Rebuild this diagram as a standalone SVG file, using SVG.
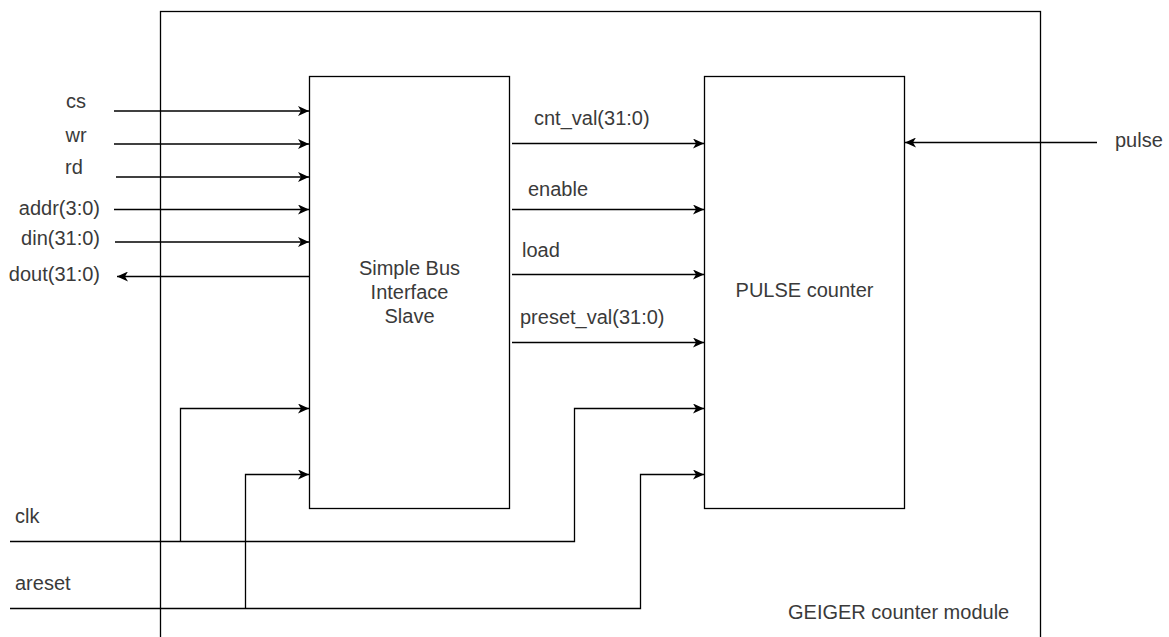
<svg xmlns="http://www.w3.org/2000/svg" width="1169" height="637" viewBox="0 0 1169 637">
<style>
.box{fill:#fff;stroke:#000;stroke-width:1.3}
.w{fill:none;stroke:#000;stroke-width:1.3}
text{font-family:"Liberation Sans",Arial,sans-serif;font-size:20px;fill:#3a3a3a}
.c{text-anchor:middle}
.r{text-anchor:end}
</style>
<defs>
<marker id="ah" markerWidth="12" markerHeight="10" refX="11" refY="5" orient="auto" markerUnits="userSpaceOnUse">
<path d="M0,0 L11,5 L0,10 L3,5 Z" fill="#000"/>
</marker>
</defs>
<g id="module">
<rect class="box" x="160.5" y="11.5" width="880" height="660"/>
<text x="788" y="619">GEIGER counter module</text>
</g>
<g id="connectors">
<line class="w" x1="114" y1="111" x2="309" y2="111" marker-end="url(#ah)"/>
<line class="w" x1="114" y1="144" x2="309" y2="144" marker-end="url(#ah)"/>
<line class="w" x1="116" y1="177" x2="309" y2="177" marker-end="url(#ah)"/>
<line class="w" x1="114" y1="209.5" x2="309" y2="209.5" marker-end="url(#ah)"/>
<line class="w" x1="115" y1="242" x2="309" y2="242" marker-end="url(#ah)"/>
<line class="w" x1="309" y1="276.5" x2="117" y2="276.5" marker-end="url(#ah)"/>
<line class="w" x1="512" y1="143.5" x2="704" y2="143.5" marker-end="url(#ah)"/>
<line class="w" x1="512" y1="209.5" x2="704" y2="209.5" marker-end="url(#ah)"/>
<line class="w" x1="512" y1="274.5" x2="704" y2="274.5" marker-end="url(#ah)"/>
<line class="w" x1="512" y1="342.5" x2="704" y2="342.5" marker-end="url(#ah)"/>
<line class="w" x1="1097" y1="142.5" x2="905" y2="142.5" marker-end="url(#ah)"/>
<polyline class="w" points="10,541.5 574.5,541.5 574.5,408.5 704,408.5" marker-end="url(#ah)"/>
<polyline class="w" points="180.5,541.5 180.5,408.5 309,408.5" marker-end="url(#ah)"/>
<polyline class="w" points="10,608.5 640.5,608.5 640.5,474.5 704,474.5" marker-end="url(#ah)"/>
<polyline class="w" points="245.5,608.5 245.5,474.5 309,474.5" marker-end="url(#ah)"/>
</g>
<g id="bus">
<rect class="box" x="309.5" y="76.5" width="200" height="432"/>
<text class="c" x="409.5" y="275">Simple Bus</text>
<text class="c" x="409.5" y="299">Interface</text>
<text class="c" x="409.5" y="323">Slave</text>
</g>
<g id="pulse_counter">
<rect class="box" x="704.5" y="76.5" width="200" height="432"/>
<text class="c" x="804.5" y="297">PULSE counter</text>
</g>
<g id="labels">
<text class="c" x="76" y="108">cs</text>
<text class="c" x="76" y="142">wr</text>
<text class="c" x="74" y="174">rd</text>
<text class="r" x="100" y="215">addr(3:0)</text>
<text class="r" x="100" y="245">din(31:0)</text>
<text class="r" x="100" y="281">dout(31:0)</text>
<text x="534" y="125">cnt_val(31:0)</text>
<text x="528" y="196">enable</text>
<text x="522" y="257">load</text>
<text x="520" y="324">preset_val(31:0)</text>
<text x="1115" y="147">pulse</text>
<text x="15" y="523">clk</text>
<text x="15" y="590">areset</text>
</g>
</svg>
